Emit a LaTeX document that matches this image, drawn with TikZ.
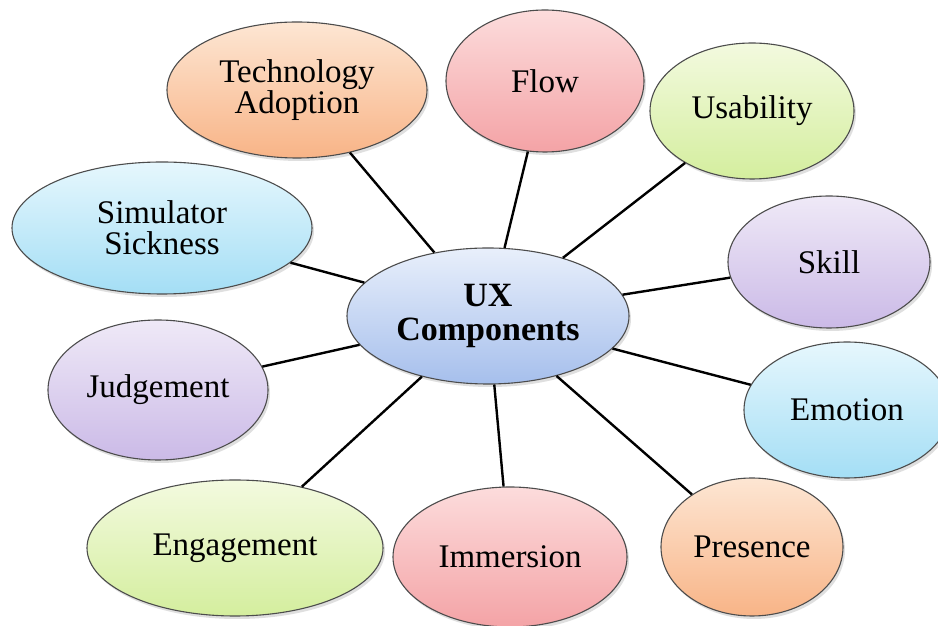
\documentclass[tikz,border=0pt]{standalone}
\usepackage{fontspec}
\setmainfont{Liberation Serif}
\usetikzlibrary{shapes.geometric,shadows}
\definecolor{peachtop}{HTML}{FDE6D3}
\definecolor{peachbot}{HTML}{F8B487}
\definecolor{rosetop}{HTML}{FCDCDC}
\definecolor{rosebot}{HTML}{F4A3A6}
\definecolor{leaftop}{HTML}{F3FADF}
\definecolor{leafbot}{HTML}{D4EE9E}
\definecolor{lilactop}{HTML}{EFE9F7}
\definecolor{lilacbot}{HTML}{CBBAE7}
\definecolor{skytop}{HTML}{E6F7FD}
\definecolor{skybot}{HTML}{A4DEF5}
\definecolor{coretop}{HTML}{E8EFFB}
\definecolor{corebot}{HTML}{A6BFEC}
\begin{document}
\begin{tikzpicture}[x=1pt, y=1pt,
			bubble/.style = {ellipse, draw=black!70, line width=1.1pt, inner sep=0pt, align=center,
				font=\fontsize{33}{31}\selectfont,
				drop shadow={opacity=0.25, shadow xshift=2pt, shadow yshift=-3pt}},
			peachbub/.style = {bubble, top color=peachtop, bottom color=peachbot},
			rosebub/.style = {bubble, top color=rosetop, bottom color=rosebot},
			leafbub/.style = {bubble, top color=leaftop, bottom color=leafbot},
			lilacbub/.style = {bubble, top color=lilactop, bottom color=lilacbot},
			skybub/.style = {bubble, top color=skytop, bottom color=skybot},
			corebub/.style = {bubble, top color=coretop, bottom color=corebot,
				font=\fontsize{34}{34}\selectfont\bfseries},
			link/.style = {line width=2.4pt}]
			
			\clip (0,0) rectangle (938,626);
			\fill[white] (0,0) rectangle (938,626);
			
			\node[corebub, minimum width=282pt, minimum height=136pt] (ux) at (488,310) {UX\\Components};
			
			\node[peachbub, minimum width=260pt, minimum height=136pt] (tech) at (297,536) {Technology\\Adoption};
			\node[rosebub, minimum width=198pt, minimum height=142pt] (flow) at (545,545) {Flow};
			\node[leafbub, minimum width=204pt, minimum height=136pt] (usab) at (752,515) {Usability};
			\node[lilacbub, minimum width=202pt, minimum height=132pt] (skill) at (829,364) {Skill};
			\node[skybub, minimum width=206pt, minimum height=136pt] (emo) at (847,216) {Emotion};
			\node[peachbub, minimum width=182pt, minimum height=138pt] (pres) at (752,79) {Presence};
			\node[rosebub, minimum width=234pt, minimum height=140pt] (imm) at (510,69) {Immersion};
			\node[leafbub, minimum width=296pt, minimum height=136pt] (eng) at (235,78) {Engagement};
			\node[lilacbub, minimum width=220pt, minimum height=140pt] (judg) at (158,236) {Judgement};
			\node[skybub, minimum width=300pt, minimum height=132pt] (sim) at (162,398) {Simulator\\Sickness};
			
			\draw[link] (ux) -- (tech);
			\draw[link] (ux) -- (flow);
			\draw[link] (ux) -- (usab);
			\draw[link] (ux) -- (skill);
			\draw[link] (ux) -- (emo);
			\draw[link] (ux) -- (pres);
			\draw[link] (ux) -- (imm);
			\draw[link] (ux) -- (eng);
			\draw[link] (ux) -- (judg);
			\draw[link] (ux) -- (sim);
		\end{tikzpicture}
\end{document}
